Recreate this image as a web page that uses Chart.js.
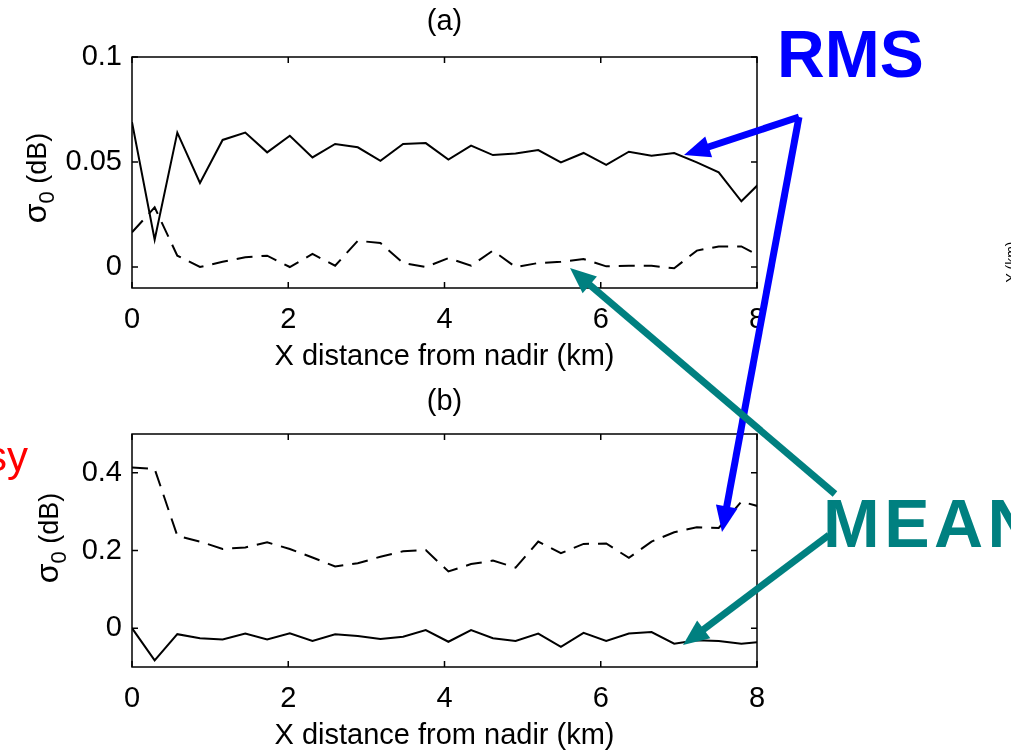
<!DOCTYPE html>
<html>
<head>
<meta charset="utf-8">
<script src="https://cdn.jsdelivr.net/npm/chart.js@4.4.1/dist/chart.umd.min.js"></script>
<style>
  html, body { margin: 0; padding: 0; background: #fff; }
  #wrap { position: relative; width: 1011px; height: 756px; overflow: hidden; }
  canvas { position: absolute; left: 0; }
  #chartA { top: 0; }
  #chartB { top: 378px; }
  #notes { position: absolute; left: 0; top: 0; }
</style>
</head>
<body>
<div id="wrap">
  <canvas id="chartA" width="1011" height="378"></canvas>
  <canvas id="chartB" width="1011" height="378"></canvas>
  <svg id="notes" width="1011" height="756" xmlns="http://www.w3.org/2000/svg">
    <text x="777" y="77" fill="#0000ff" font-family="Liberation Sans, Arial, sans-serif" font-weight="bold" font-size="66">RMS</text>
    <text x="823" y="547" fill="#008080" font-family="Liberation Sans, Arial, sans-serif" font-weight="bold" font-size="68" letter-spacing="4.5">MEAN</text>
    <text x="-14" y="471" fill="#ff0000" font-family="Liberation Sans, Arial, sans-serif" font-size="42">sy</text>
    <text transform="translate(1016,262) rotate(-90)" text-anchor="middle" fill="#000" font-family="Liberation Sans, Arial, sans-serif" font-size="14">Y (km)</text>
  </svg>
</div>
<script>
// x positions along the swath (km)
const xKm = [0, 0.29, 0.58, 0.87, 1.16, 1.45, 1.73, 2.02, 2.31, 2.60, 2.89, 3.18, 3.47, 3.76, 4.05,
             4.34, 4.62, 4.91, 5.20, 5.49, 5.78, 6.07, 6.36, 6.65, 6.94, 7.23, 7.51, 7.80, 8.09];

// panel (a)
const rmsA = [0.069, 0.013, 0.064, 0.040, 0.0605, 0.064, 0.0546, 0.0625, 0.0522, 0.0586, 0.057, 0.0506, 0.0586, 0.059, 0.0512,
              0.0578, 0.0533, 0.0541, 0.0557, 0.0498, 0.0543, 0.0486, 0.0549, 0.053, 0.0543, 0.0498, 0.0451, 0.0313, 0.042];
const meanA = [0.0165, 0.0284, 0.0054, 0.0, 0.0025, 0.0046, 0.0054, 0.0, 0.0062, 0.0006, 0.0125, 0.0114, 0.0019, 0.0, 0.0042,
               0.0006, 0.0078, 0.0, 0.0019, 0.0025, 0.0038, 0.0003, 0.0006, 0.0006, -0.0006, 0.0078, 0.0098, 0.0098, 0.004];

// panel (b)
const rmsB = [0.414, 0.41, 0.238, 0.223, 0.204, 0.208, 0.221, 0.204, 0.182, 0.159, 0.167, 0.184, 0.198, 0.201, 0.146,
              0.165, 0.174, 0.156, 0.223, 0.193, 0.217, 0.218, 0.181, 0.223, 0.247, 0.26, 0.258, 0.326, 0.31];
const meanB = [0, -0.083, -0.0155, -0.026, -0.029, -0.014, -0.029, -0.013, -0.033, -0.0155, -0.02, -0.028, -0.022, -0.005, -0.035,
               -0.005, -0.026, -0.033, -0.014, -0.048, -0.012, -0.033, -0.014, -0.010, -0.040, -0.031, -0.033, -0.040, -0.035];

const xTicks = [0, 2, 4, 6, 8];
const yTicksA = [0, 0.05, 0.1];
const yLabelsA = ['0', '0.05', '0.1'];
const yTicksB = [0, 0.2, 0.4];
const yLabelsB = ['0', '0.2', '0.4'];

const FONT = '"Liberation Sans", Arial, sans-serif';
Chart.defaults.font.family = FONT;
Chart.defaults.color = '#000';

// box, inward ticks and the texts matlab puts round the axes
const panelDeco = {
  id: 'panelDeco',
  afterDraw(chart, args, o) {
    const { ctx, chartArea: a, scales: { x, y } } = chart;
    ctx.save();
    ctx.strokeStyle = '#000';
    ctx.lineWidth = 1.5;
    ctx.strokeRect(a.left, a.top, a.right - a.left, a.bottom - a.top);
    ctx.beginPath();
    x.ticks.forEach(t => {
      const px = x.getPixelForValue(t.value);
      ctx.moveTo(px, a.bottom); ctx.lineTo(px, a.bottom - 6);
      ctx.moveTo(px, a.top); ctx.lineTo(px, a.top + 6);
    });
    y.ticks.forEach(t => {
      const py = y.getPixelForValue(t.value);
      ctx.moveTo(a.left, py); ctx.lineTo(a.left + 6, py);
      ctx.moveTo(a.right, py); ctx.lineTo(a.right - 6, py);
    });
    ctx.stroke();

    const cx = (a.left + a.right) / 2;
    ctx.fillStyle = '#000';
    ctx.textAlign = 'center';
    ctx.textBaseline = 'middle';
    ctx.font = '29px ' + FONT;
    ctx.fillText(o.title, cx, a.top + o.titleDy);
    ctx.fillText('X distance from nadir (km)', cx, a.bottom + 69);

    // sigma_0 (dB), rotated
    ctx.translate(o.yTitleX, o.yTitleY);
    ctx.rotate(-Math.PI / 2);
    ctx.textAlign = 'left';
    ctx.textBaseline = 'alphabetic';
    const fSig = '32px ' + FONT, fSub = '22px ' + FONT, fUnit = '27px ' + FONT;
    ctx.font = fSig; const wSig = ctx.measureText('σ').width;
    ctx.font = fSub; const wSub = ctx.measureText('0').width;
    ctx.font = fUnit; const wUnit = ctx.measureText(' (dB)').width;
    let px = -(wSig + wSub + wUnit) / 2;
    const base = 10;
    ctx.font = fSig; ctx.fillText('σ', px, base); px += wSig;
    ctx.font = fSub; ctx.fillText('0', px, base + 8); px += wSub;
    ctx.font = fUnit; ctx.fillText(' (dB)', px, base);
    ctx.restore();
  }
};

function lineSet(vals, dashed) {
  return {
    data: xKm.map((x, i) => ({ x: x, y: vals[i] })),
    borderColor: '#000',
    borderWidth: 2,
    borderDash: dashed ? [16, 9] : [],
    pointRadius: 0,
    tension: 0,
    fill: false
  };
}

function makePanel(id, sets, yMin, yMax, yTicks, yLabels, deco, padTop, xHeight) {
  return new Chart(document.getElementById(id), {
    type: 'line',
    data: { datasets: sets },
    plugins: [panelDeco],
    options: {
      responsive: false,
      animation: false,
      layout: { padding: { left: 0, top: padTop, right: 254, bottom: 0 } },
      plugins: {
        legend: { display: false },
        tooltip: { enabled: false },
        panelDeco: deco
      },
      scales: {
        x: {
          type: 'linear',
          min: 0, max: 8,
          afterBuildTicks: s => { s.ticks = xTicks.map(v => ({ value: v })); },
          afterFit: s => { s.height = xHeight; },
          grid: { display: false, drawTicks: false },
          border: { display: false },
          ticks: { font: { size: 29 }, padding: 15, maxRotation: 0, callback: v => String(v) }
        },
        y: {
          min: yMin, max: yMax,
          afterBuildTicks: s => { s.ticks = yTicks.map(v => ({ value: v })); },
          afterFit: s => { s.width = 132; },
          grid: { display: false, drawTicks: false },
          border: { display: false },
          ticks: { font: { size: 29 }, padding: 10, callback: v => yLabels[yTicks.indexOf(v)] }
        }
      }
    }
  });
}

makePanel('chartA', [lineSet(rmsA, false), lineSet(meanA, true)], -0.01, 0.1, yTicksA, yLabelsA,
  { title: '(a)', titleDy: -35, yTitleX: 36, yTitleY: 178 }, 57, 90);
makePanel('chartB', [lineSet(rmsB, true), lineSet(meanB, false)], -0.1, 0.5, yTicksB, yLabelsB,
  { title: '(b)', titleDy: -32, yTitleX: 48, yTitleY: 160 }, 56, 89);

// annotation arrows
const svg = document.getElementById('notes');
const NS = 'http://www.w3.org/2000/svg';
function arrow(x1, y1, x2, y2, color) {
  const len = Math.hypot(x2 - x1, y2 - y1);
  const ux = (x2 - x1) / len, uy = (y2 - y1) / len;
  const hl = 26, hw = 11;
  const bx = x2 - ux * hl, by = y2 - uy * hl;
  const ln = document.createElementNS(NS, 'line');
  ln.setAttribute('x1', x1); ln.setAttribute('y1', y1);
  ln.setAttribute('x2', bx + ux * 2); ln.setAttribute('y2', by + uy * 2);
  ln.setAttribute('stroke', color); ln.setAttribute('stroke-width', 7);
  svg.appendChild(ln);
  const hd = document.createElementNS(NS, 'polygon');
  hd.setAttribute('points', [x2, y2, bx - uy * hw, by + ux * hw, bx + uy * hw, by - ux * hw].join(' '));
  hd.setAttribute('fill', color);
  svg.appendChild(hd);
}
arrow(799, 117, 684, 155, '#0000ff');
arrow(799, 117, 722, 532, '#0000ff');
arrow(835, 494, 570, 268, '#008080');
arrow(829, 535, 683, 645, '#008080');
</script>
</body>
</html>
